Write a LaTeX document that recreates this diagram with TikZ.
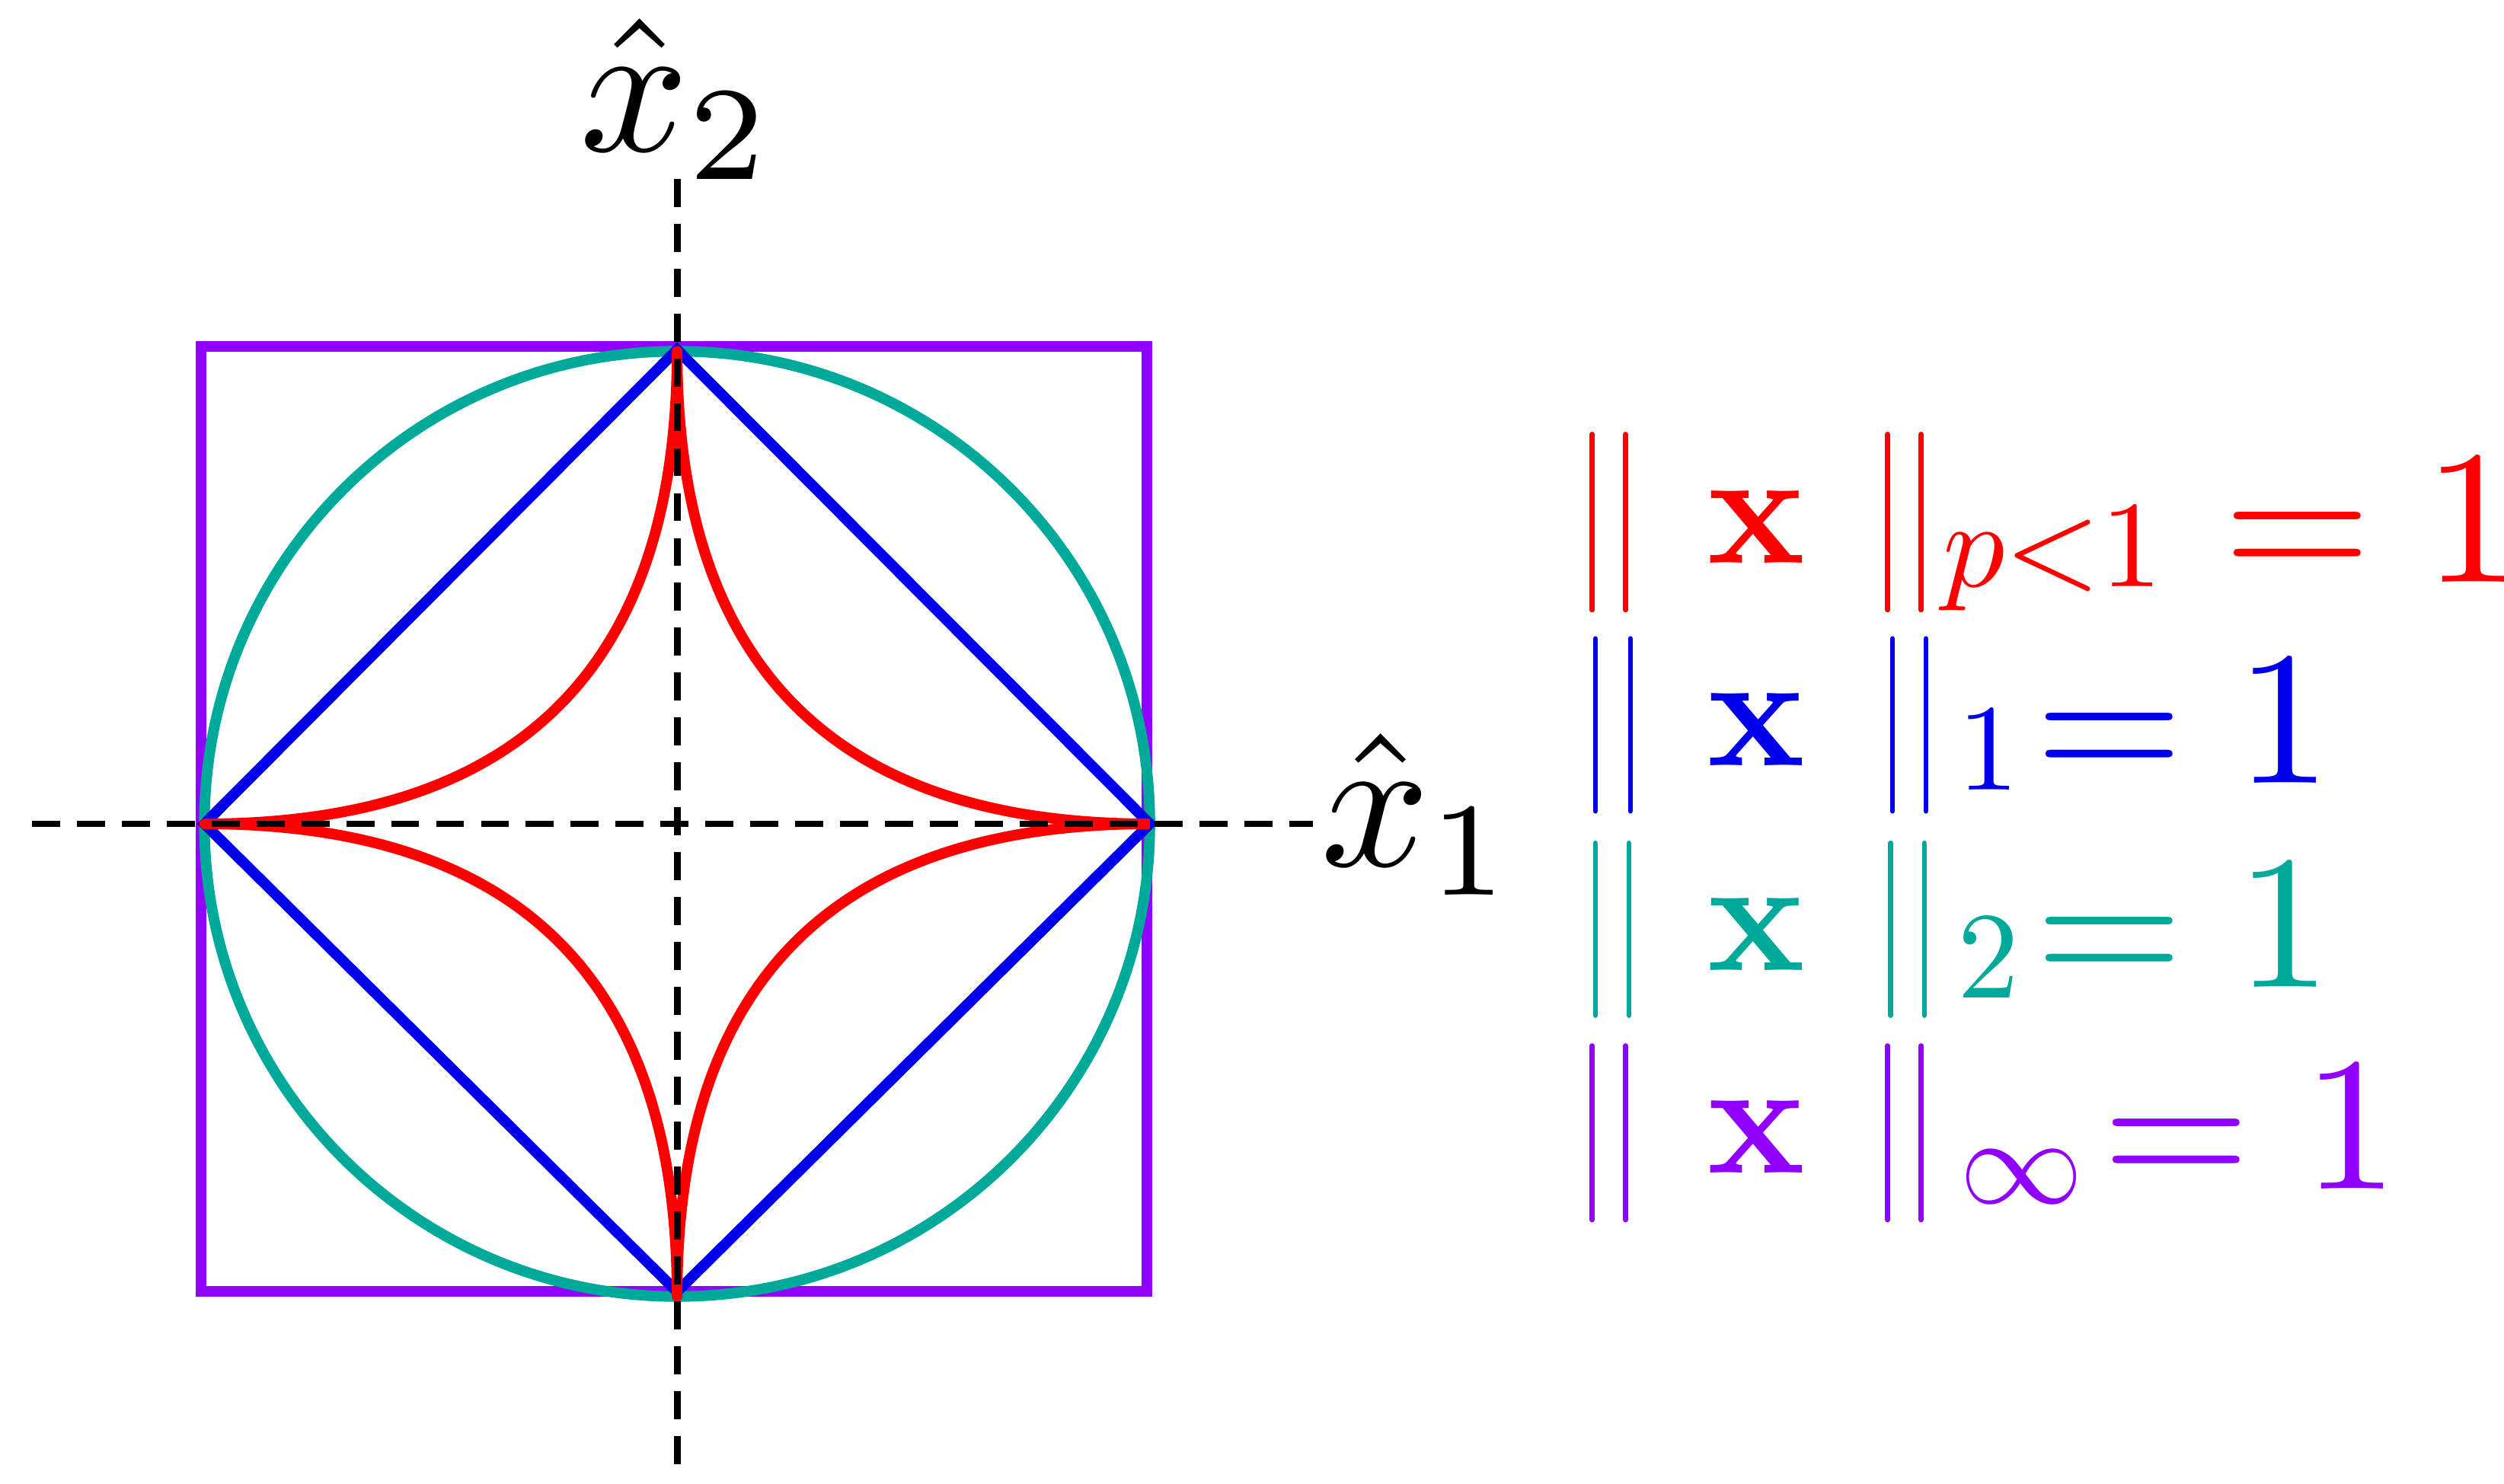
\documentclass[tikz,border=0pt]{standalone}
\usepackage{amsmath}
\definecolor{cred}{RGB}{255,0,0}
\definecolor{cblue}{RGB}{0,0,235}
\definecolor{cteal}{RGB}{0,170,155}
\definecolor{cpurp}{RGB}{145,0,255}
\begin{document}
\begin{tikzpicture}[x=0.1mm,y=-0.1mm,
  curve/.style={line width=1.9pt},
  bar/.style={line width=0.9pt,line cap=round},
  axis/.style={line width=1.2pt,dash pattern=on 5pt off 3pt},
  big/.style={font=\normalsize,inner sep=0pt,scale=3.4},
  bx/.style={font=\normalsize,inner sep=0pt,scale=2.9},
  sub/.style={font=\normalsize,inner sep=0pt,scale=2.2}]
\useasboundingbox (0,0) rectangle (1568,929);
\coordinate (O) at (424,516);
\draw[curve,cpurp] (126,217) rectangle (718,809);
\draw[curve,cteal] (O) circle[radius=296*0.1mm];
\draw[curve,cblue] (128,516) -- (424,219) -- (720,516) -- (424,809) -- cycle;
\draw[curve,cred,line join=round] plot[domain=0:360,samples=240,smooth]
  ({424+296*cos(\x)*abs(cos(\x))^3},{516-296*sin(\x)*abs(sin(\x))^3});
\coordinate (L) at (20,516); \coordinate (R) at (822,516);
\coordinate (T) at (424,112); \coordinate (B) at (424,918);
\draw[axis] (L) -- (R);
\draw[axis] (T) -- (B);
\node[big] (x2) at (424,62) {$\hat{x}_2$};
\node[big] (x1) at (888,510) {$\hat{x}_1$};
% row 1
\draw[bar,cred] (997,272) -- (997,382) (1018,272) -- (1018,382) (1182,272) -- (1182,382) (1203,272) -- (1203,382);
\node[bx,text=cred] (a1) at (1100,330) {$\mathbf{x}$};
\node[sub,text=cred,anchor=west] (s1) at (1215,350) {$p{<}1$};
\node[big,text=cred,anchor=west] (e1) at (1390,326) {$=1$};
% row 2
\draw[bar,cblue] (999,400) -- (999,508) (1021,400) -- (1021,508) (1185,400) -- (1185,508) (1206,400) -- (1206,508);
\node[bx,text=cblue] (a2) at (1100,457) {$\mathbf{x}$};
\node[sub,text=cblue] (s2) at (1245,470) {$1$};
\node[big,text=cblue,anchor=west] (e2) at (1272,452) {$=1$};
% row 3
\draw[bar,cteal] (999,528) -- (999,636) (1020,528) -- (1020,636) (1184,528) -- (1184,636) (1205,528) -- (1205,636);
\node[bx,text=cteal] (a3) at (1100,585) {$\mathbf{x}$};
\node[sub,text=cteal] (s3) at (1245,600) {$2$};
\node[big,text=cteal,anchor=west] (e3) at (1272,580) {$=1$};
% row 4
\draw[bar,cpurp] (997,655) -- (997,764) (1018,655) -- (1018,764) (1182,655) -- (1182,764) (1203,655) -- (1203,764);
\node[bx,text=cpurp] (a4) at (1100,712) {$\mathbf{x}$};
\node[sub,text=cpurp] (s4) at (1266,737) {$\infty$};
\node[big,text=cpurp,anchor=west] (e4) at (1314,706) {$=1$};
\end{tikzpicture}
\end{document}
